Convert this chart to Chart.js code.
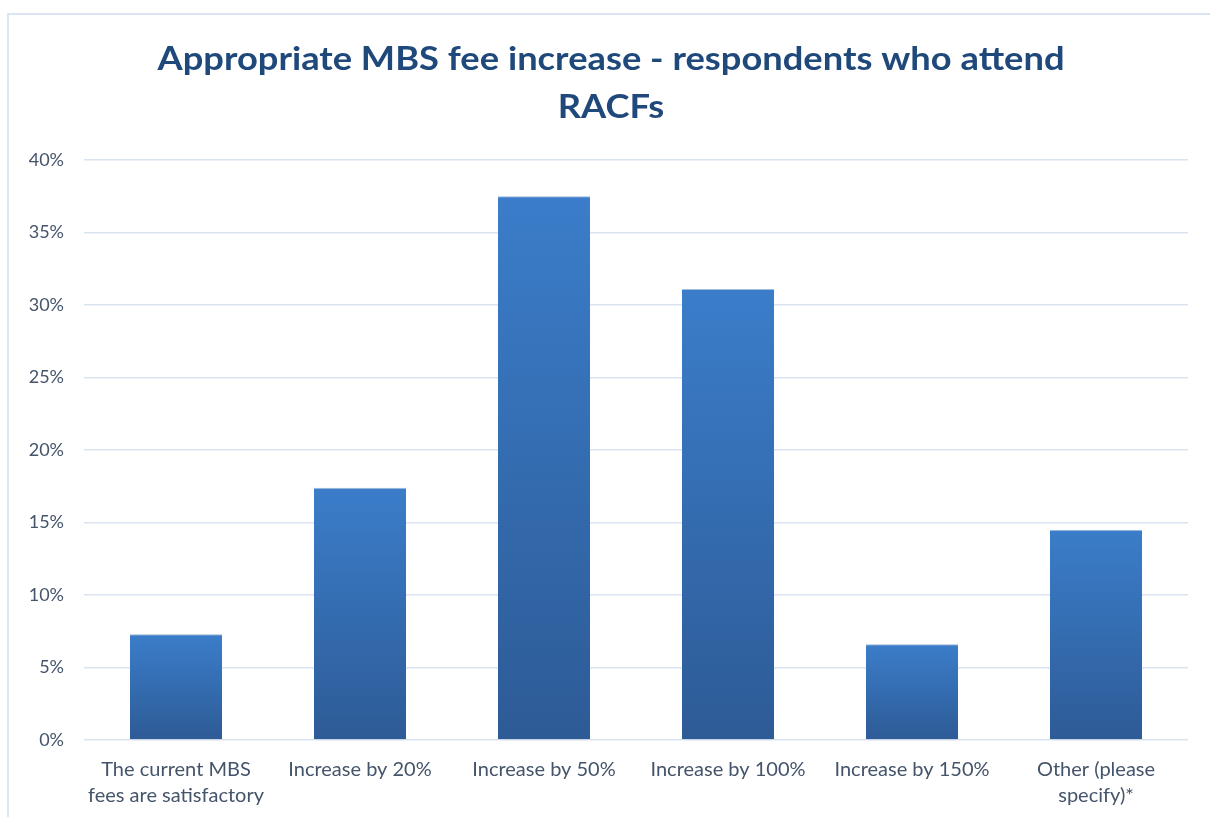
<!DOCTYPE html>
<html>
<head>
<meta charset="utf-8">
<title>Appropriate MBS fee increase - respondents who attend RACFs</title>
<script src="https://cdn.jsdelivr.net/npm/chart.js@4/dist/chart.umd.min.js"></script>
<style>
  html, body { margin: 0; padding: 0; background: #ffffff; }
  #wrap { position: relative; width: 1210px; height: 817px; overflow: hidden; }
  #frame {
    position: absolute; left: 7px; top: 13px; width: 1220px; height: 830px;
    border: 2px solid #dbe4f1; box-sizing: border-box; pointer-events: none;
  }
  canvas { position: absolute; left: 0; top: 0; }
</style>
</head>
<body>
<div id="wrap">
  <canvas id="chart" width="1210" height="817"></canvas>
  <div id="frame"></div>
</div>
<script>
// Survey answers and the share of respondents choosing each one (%)
const titleLines = ["Appropriate MBS fee increase - respondents who attend", "RACFs"];
const categories = [
  ["The current MBS", "fees are satisfactory"],
  "Increase by 20%",
  "Increase by 50%",
  "Increase by 100%",
  "Increase by 150%",
  ["Other (please", "specify)*"]
];
const shares = [7.3, 17.4, 37.5, 31.1, 6.6, 14.5];
const yTicks = [0, 5, 10, 15, 20, 25, 30, 35, 40];

const FONT = "Lato, 'Open Sans', sans-serif";
const LABEL_COLOR = "#44546a";

// Vertical gradient for each bar, from its top edge down to the baseline
function barFill(ctx) {
  const chart = ctx.chart;
  const y = chart.scales && chart.scales.y;
  if (!chart.chartArea || !y || ctx.raw === undefined) return "#3470b8";
  const top = y.getPixelForValue(ctx.raw);
  const base = y.getPixelForValue(0);
  const g = chart.ctx.createLinearGradient(0, top, 0, base);
  g.addColorStop(0, "#3b7dca");
  g.addColorStop(1, "#2d5b96");
  return g;
}

// Soft drop shadow behind the bars
const barShadow = {
  id: "barShadow",
  beforeDatasetsDraw(chart) {
    const c = chart.ctx;
    c.save();
    c.shadowColor = "rgba(0,0,0,0.28)";
    c.shadowBlur = 5;
    c.shadowOffsetX = 1;
    c.shadowOffsetY = 1;
  },
  afterDatasetsDraw(chart) {
    chart.ctx.restore();
  }
};

// Two-line heading, set in a slightly widened bold face
const wideTitle = {
  id: "wideTitle",
  afterDraw(chart) {
    const c = chart.ctx;
    const baselines = [70, 118];
    c.save();
    c.font = "bold 33px " + FONT;
    c.fillStyle = "#1f487b";
    c.textAlign = "center";
    c.textBaseline = "alphabetic";
    titleLines.forEach((line, i) => {
      c.save();
      c.translate(611, baselines[i]);
      c.scale(1.1, 1);
      c.fillText(line, 0, 0);
      c.restore();
    });
    c.restore();
  }
};

new Chart(document.getElementById("chart"), {
  type: "bar",
  data: {
    labels: categories,
    datasets: [{
      data: shares,
      backgroundColor: barFill,
      borderColor: "rgba(120,165,220,0.6)",
      borderWidth: { top: 1, left: 0, right: 0, bottom: 0 },
      borderSkipped: "bottom",
      barPercentage: 0.5,
      categoryPercentage: 1.0
    }]
  },
  plugins: [barShadow, wideTitle],
  options: {
    responsive: false,
    animation: false,
    devicePixelRatio: 1,
    layout: { padding: { left: 0, right: 22, top: 160, bottom: 0 } },
    plugins: {
      legend: { display: false },
      tooltip: { enabled: false },
      title: { display: false }
    },
    scales: {
      y: {
        min: 0,
        max: 40,
        afterBuildTicks(axis) {
          axis.ticks = yTicks.map(v => ({ value: v }));
        },
        afterFit(axis) { axis.width = 84; },
        border: { display: false },
        grid: { color: "#d9e3f1", lineWidth: 1.5, drawTicks: false },
        ticks: {
          padding: 20,
          color: LABEL_COLOR,
          font: { family: FONT, size: 18 },
          callback: v => v + "%"
        }
      },
      x: {
        afterFit(axis) { axis.height = 77; },
        border: { display: false },
        grid: { display: false, drawTicks: false },
        ticks: {
          padding: 16,
          maxRotation: 0,
          autoSkip: false,
          color: LABEL_COLOR,
          font: { family: FONT, size: 20, lineHeight: 1.33 }
        }
      }
    }
  }
});
</script>
</body>
</html>
